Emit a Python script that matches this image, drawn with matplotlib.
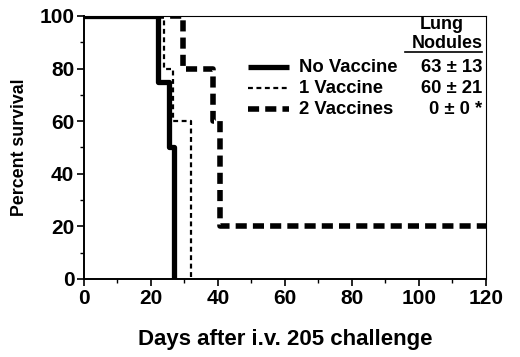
import matplotlib
matplotlib.use("Agg")
import matplotlib.pyplot as plt
from matplotlib.ticker import MultipleLocator

plt.rcParams['font.family'] = ['Liberation Sans', 'DejaVu Sans']
plt.rcParams['font.weight'] = 'bold'

# Survival step data (day, percent)
no_vac_days = [0, 22, 25.5, 27]
no_vac_surv = [100, 75, 50, 0]
one_vac_days = [0, 24, 26.5, 32]
one_vac_surv = [100, 80, 60, 0]
two_vac_days = [0, 29.5, 38.5, 40.5, 120]
two_vac_surv = [100, 80, 60, 20, 20]

labels = ["No Vaccine", "1 Vaccine", "2 Vaccines"]
nodules = ["63 \u00b1 13", "60 \u00b1 21", "0 \u00b1 0 *"]

fig = plt.figure(figsize=(5.2, 3.57), dpi=100)
ax = fig.add_axes([0.1615, 0.2185, 0.773, 0.737])

styles = [
    dict(color='black', lw=3.8, ls='-'),
    dict(color='black', lw=1.6, ls=(0, (2.2, 1.6))),
    dict(color='black', lw=4.0, ls=(0, (2.0, 1.1))),
]
series = [(no_vac_days, no_vac_surv), (one_vac_days, one_vac_surv),
          (two_vac_days, two_vac_surv)]
for (d, s), st in zip(series, styles):
    ax.step(d, s, where='post', solid_capstyle='butt', dash_capstyle='butt', **st)

ax.set_xlim(0, 120)
ax.set_ylim(0, 100)
ax.xaxis.set_major_locator(MultipleLocator(20))
ax.xaxis.set_minor_locator(MultipleLocator(10))
ax.yaxis.set_major_locator(MultipleLocator(20))
ax.yaxis.set_minor_locator(MultipleLocator(10))
ax.tick_params(which='major', direction='out', length=5, width=1.2, labelsize=15, pad=2)
ax.tick_params(which='minor', direction='out', length=3, width=1.0)
for lab in ax.get_xticklabels() + ax.get_yticklabels():
    lab.set_fontweight('bold')
ax.spines['left'].set_linewidth(1.4)
ax.spines['bottom'].set_linewidth(1.4)
ax.spines['top'].set_linewidth(0.8)
ax.spines['right'].set_linewidth(0.8)

ax.set_xlabel("Days after i.v. 205 challenge", fontsize=16, fontweight='bold', labelpad=15)
ax.set_ylabel("Percent survival", fontsize=12.8, fontweight='bold', labelpad=8)

# manual legend table
tr = ax.transAxes
ax.text(0.89, 0.966, "Lung", transform=tr, ha='center', va='center', fontsize=13, fontweight='bold')
ax.text(0.991, 0.895, "Nodules", transform=tr, ha='right', va='center', fontsize=13, fontweight='bold')
ax.plot([0.798, 0.989], [0.862, 0.862], transform=tr, color='black', lw=1.2)
rows_y = [0.805, 0.725, 0.645]
for lbl, val, st, y in zip(labels, nodules, styles, rows_y):
    ax.plot([0.407, 0.51], [y, y], transform=tr, solid_capstyle='butt', dash_capstyle='butt', **st)
    ax.text(0.535, y, lbl, transform=tr, ha='left', va='center', fontsize=13.3, fontweight='bold')
    ax.text(0.991, y, val, transform=tr, ha='right', va='center', fontsize=13.3, fontweight='bold')

fig.savefig("out.png", dpi=100)
